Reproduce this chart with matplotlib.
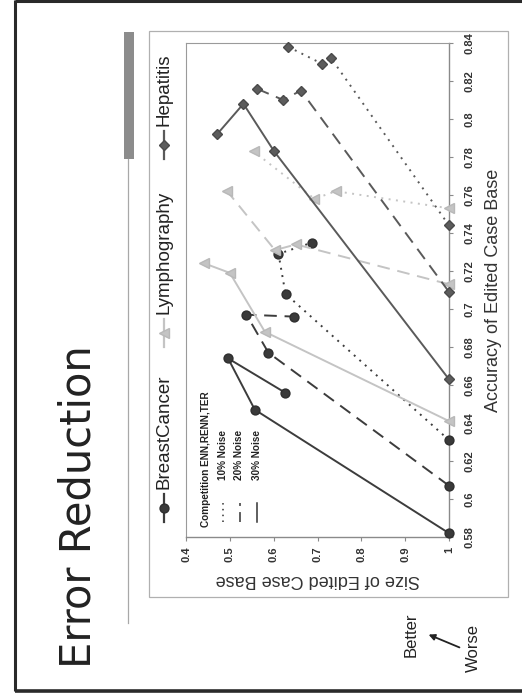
import matplotlib
matplotlib.use("Agg")
import matplotlib.pyplot as plt
from matplotlib.patches import Rectangle
from matplotlib.lines import Line2D

plt.rcParams['font.family'] = ['Liberation Sans', 'DejaVu Sans']

# ---- data: size of edited case base vs. accuracy (Competition, ENN, RENN, TER) ----
datasets = ["BreastCancer", "Lymphography", "Hepatitis"]
noise_levels = ["10% Noise", "20% Noise", "30% Noise"]

breast_size_10 = [1.0, 0.627, 0.611, 0.688]
breast_acc_10 = [0.631, 0.708, 0.729, 0.735]
breast_size_20 = [1.0, 0.588, 0.538, 0.646]
breast_acc_20 = [0.607, 0.677, 0.697, 0.696]
breast_size_30 = [1.0, 0.557, 0.496, 0.626]
breast_acc_30 = [0.582, 0.647, 0.674, 0.656]

lymph_size_10 = [1.0, 0.742, 0.693, 0.554]
lymph_acc_10 = [0.753, 0.762, 0.758, 0.783]
lymph_size_20 = [1.0, 0.651, 0.603, 0.494]
lymph_acc_20 = [0.713, 0.734, 0.731, 0.762]
lymph_size_30 = [1.0, 0.580, 0.500, 0.442]
lymph_acc_30 = [0.641, 0.688, 0.719, 0.724]

hep_size_10 = [1.0, 0.731, 0.711, 0.633]
hep_acc_10 = [0.744, 0.832, 0.829, 0.838]
hep_size_20 = [1.0, 0.662, 0.622, 0.561]
hep_acc_20 = [0.709, 0.815, 0.810, 0.816]
hep_size_30 = [1.0, 0.601, 0.531, 0.471]
hep_acc_30 = [0.663, 0.783, 0.808, 0.792]

size_ticks = [0.4, 0.5, 0.6, 0.7, 0.8, 0.9, 1.0]
size_tick_labels = ["0.4", "0.5", "0.6", "0.7", "0.8", "0.9", "1"]
acc_ticks = [0.58, 0.60, 0.62, 0.64, 0.66, 0.68, 0.70, 0.72, 0.74, 0.76, 0.78, 0.80, 0.82, 0.84]
acc_tick_labels = ["0.58", "0.6", "0.62", "0.64", "0.66", "0.68", "0.7", "0.72",
                   "0.74", "0.76", "0.78", "0.8", "0.82", "0.84"]

# ---- styles ----
series_style = {
    "BreastCancer": dict(color="#3c3c3c", marker="o", ms=6.4, mec="#2e2e2e", mfc="#3a3a3a"),
    "Lymphography": dict(color="#c4c4c4", marker="<", ms=7.8, mec="#b8b8b8", mfc="#c4c4c4"),
    "Hepatitis": dict(color="#5a5a5a", marker="D", ms=5.6, mec="#4a4a4a", mfc="#5c5c5c"),
}
noise_dash = {
    "10% Noise": (0, (1.0, 2.8)),
    "20% Noise": (0, (6.5, 4.0)),
    "30% Noise": "-",
}

series = {
    "BreastCancer": [(breast_size_10, breast_acc_10), (breast_size_20, breast_acc_20), (breast_size_30, breast_acc_30)],
    "Lymphography": [(lymph_size_10, lymph_acc_10), (lymph_size_20, lymph_acc_20), (lymph_size_30, lymph_acc_30)],
    "Hepatitis": [(hep_size_10, hep_acc_10), (hep_size_20, hep_acc_20), (hep_size_30, hep_acc_30)],
}

W, H = 522, 698
fig = plt.figure(figsize=(W / 100, H / 100), dpi=100)
fig.patch.set_facecolor("white")

# page layer in pixel coordinates (y downwards)
bg = fig.add_axes([0, 0, 1, 1], zorder=0)
bg.set_xlim(0, W)
bg.set_ylim(H, 0)
bg.axis("off")

# slide frame
bg.plot([15, 15], [0, 691], color="#2a2a2a", lw=2.2, solid_capstyle="butt")
bg.plot([15, W], [1, 1], color="#2a2a2a", lw=2.2, solid_capstyle="butt")
bg.plot([15, W], [691, 691], color="#2a2a2a", lw=2.6, solid_capstyle="butt")

# title and rule
bg.text(79, 507, "Error Reduction", rotation=90, ha="center", va="center",
        fontsize=30, family=["DejaVu Sans"], color="#222222")
bg.add_patch(Rectangle((123.5, 32), 10.5, 127, facecolor="#8c8c8c", edgecolor="none"))
bg.plot([127.5, 127.5], [159, 623], color="#a8a8a8", lw=0.9)

# chart frame
bg.add_patch(Rectangle((149, 31), 359, 566, facecolor="white", edgecolor="#b0b0b0", lw=0.9))

# series legend (top row of the chart, rotated)
legend_pos = {"BreastCancer": 508, "Lymphography": 333, "Hepatitis": 145}
for name in datasets:
    st = series_style[name]
    mark_y = legend_pos[name]
    bg.add_line(Line2D([164, 164], [mark_y - 14, mark_y + 14], color=st["color"], lw=1.6))
    bg.add_line(Line2D([164], [mark_y], marker=st["marker"], ms=st["ms"],
                       mfc=st["mfc"], mec=st["mec"], ls="none"))
    bg.text(164, mark_y - 19, name, rotation=90, ha="center", va="bottom",
            fontsize=13.5, color="#222222")

# better / worse note
bg.text(411, 635, "Better", rotation=90, ha="center", va="center", fontsize=12, color="#222222")
bg.text(473, 648, "Worse", rotation=90, ha="center", va="center", fontsize=12, color="#222222")
bg.annotate("", xy=(426, 633.5), xytext=(462, 648.5),
            arrowprops=dict(arrowstyle="-|>", color="#222222", lw=1.3, mutation_scale=9))

# ---- plot area ----
ax = fig.add_axes([186 / W, 1 - 537 / H, 263 / W, 494 / H], zorder=1)
ax.set_facecolor("none")
ax.set_xlim(0.4, 1.0)
ax.set_ylim(0.58, 0.84)

for name in datasets:
    st = series_style[name]
    for (sz, acc), nl in zip(series[name], noise_levels):
        ax.plot(sz, acc, color=st["color"], lw=1.4, ls=noise_dash[nl],
                marker=st["marker"], ms=st["ms"], mfc=st["mfc"], mec=st["mec"],
                clip_on=False, zorder=3)

for side in ("top", "left"):
    ax.spines[side].set_color("#9a9a9a")
    ax.spines[side].set_linestyle((0, (1, 1)))
    ax.spines[side].set_linewidth(0.8)
for side in ("bottom", "right"):
    ax.spines[side].set_color("#8a8a8a")
    ax.spines[side].set_linewidth(1.0)

ax.yaxis.tick_right()
ax.yaxis.set_label_position("right")
ax.set_xticks(size_ticks)
ax.set_xticklabels(size_tick_labels, rotation=90, fontsize=8, fontweight="bold", color="#333333")
ax.set_yticks(acc_ticks)
ax.set_yticklabels(acc_tick_labels, rotation=90, fontsize=8, fontweight="bold", color="#333333",
                   va="center")
ax.tick_params(axis="x", direction="out", length=3, width=0.8, color="#8a8a8a", pad=4)
ax.tick_params(axis="y", direction="out", length=3, width=0.8, color="#8a8a8a", pad=8)

ax.set_xlabel("Size of Edited Case Base", rotation=180, fontsize=13, color="#333333", labelpad=6)
ax.set_ylabel("Accuracy of Edited Case Base", rotation=90, fontsize=13, color="#333333", labelpad=8)

# line-style legend inside the plot
bg.text(206, 527, "Competition ENN,RENN,TER", rotation=90, ha="center", va="bottom",
        fontsize=7.2, fontweight="bold", color="#222222")
for xpos, nl in zip([222.5, 239.5, 256.5], noise_levels):
    bg.add_line(Line2D([xpos, xpos], [522, 503], color="#333333", lw=1.1, ls=noise_dash[nl]))
    bg.text(xpos, 480, nl, rotation=90, ha="center", va="bottom",
            fontsize=7.2, fontweight="bold", color="#222222")

fig.savefig("out.png", dpi=100, facecolor="white")
